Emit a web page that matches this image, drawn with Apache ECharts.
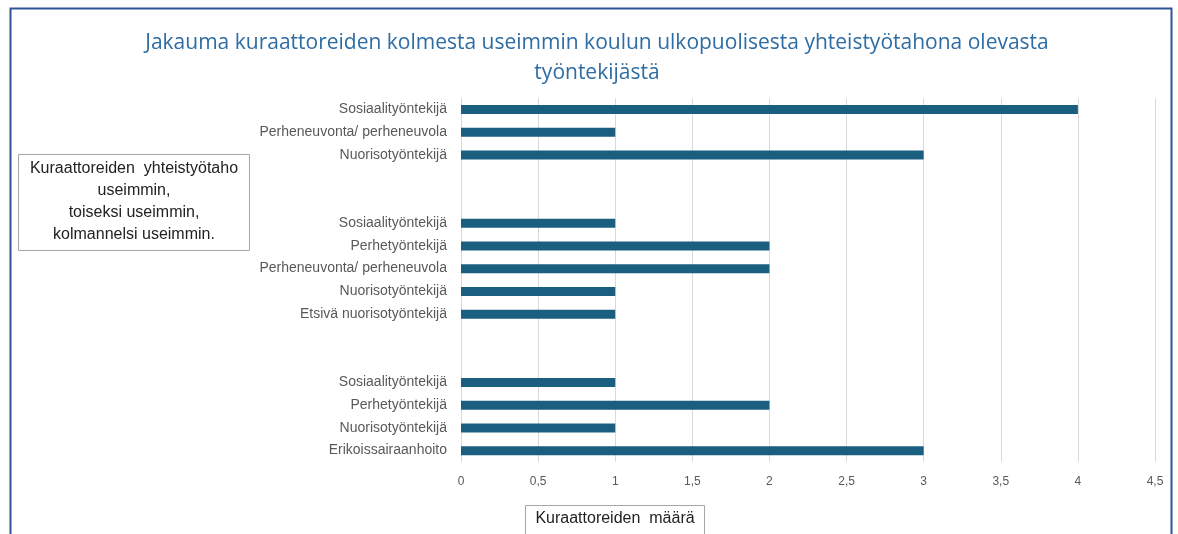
<!DOCTYPE html>
<html>
<head>
<meta charset="utf-8">
<script src="https://cdn.jsdelivr.net/npm/echarts@6/dist/echarts.min.js"></script>
<style>
  html, body { margin: 0; padding: 0; background: #fff; }
  #chart { width: 1178px; height: 534px; }
</style>
</head>
<body>
<div id="chart"></div>
<script>
// rows top to bottom, blank rows separate the three groups
var categories = [
  'Sosiaalityöntekijä', 'Perheneuvonta/ perheneuvola', 'Nuorisotyöntekijä',
  '', ' ',
  'Sosiaalityöntekijä', 'Perhetyöntekijä', 'Perheneuvonta/ perheneuvola', 'Nuorisotyöntekijä', 'Etsivä nuorisotyöntekijä',
  '  ', '   ',
  'Sosiaalityöntekijä', 'Perhetyöntekijä', 'Nuorisotyöntekijä', 'Erikoissairaanhoito'
];
var counts = [4, 1, 3, null, null, 1, 2, 2, 1, 1, null, null, 1, 2, 1, 3];
var xTicks = [0, 0.5, 1, 1.5, 2, 2.5, 3, 3.5, 4, 4.5];

var mychart = echarts.init(document.getElementById('chart'));
var option = {
    animation: false,
    title: [
        {
            text: 'Jakauma kuraattoreiden kolmesta useimmin koulun ulkopuolisesta yhteistyötahona olevasta\ntyöntekijästä',
            left: 592,
            top: 23,
            textAlign: 'center',
            textStyle: {
                color: '#2e6ca4',
                fontSize: 21,
                fontWeight: 'normal',
                lineHeight: 30,
                fontFamily: 'Open Sans'
            }
        },
        {
            // left side note box
            text: 'Kuraattoreiden  yhteistyötaho\nuseimmin,\ntoiseksi useimmin,\nkolmannelsi useimmin.',
            left: 129,
            top: 154,
            textAlign: 'center',
            borderColor: '#a6a6a6',
            borderWidth: 1,
            padding: [4, 5, 5, 5],
            textStyle: {
                color: '#222',
                fontSize: 16,
                fontWeight: 'normal',
                lineHeight: 22,
                fontFamily: 'Liberation Sans',
                width: 222,
                align: 'center'
            }
        },
        {
            text: 'Kuraattoreiden  määrä',
            left: 605,
            top: 505,
            textAlign: 'center',
            borderColor: '#a6a6a6',
            borderWidth: 1,
            padding: [6, 10, 8, 10],
            textStyle: {
                color: '#222',
                fontSize: 16,
                fontWeight: 'normal',
                fontFamily: 'Liberation Sans'
            }
        }
    ],
    graphic: [
        {
            type: 'rect',
            shape: { x: 10.5, y: 8.5, width: 1161, height: 540 },
            style: { fill: null, stroke: '#2f5597', lineWidth: 2 },
            z: 100
        }
    ],
    grid: {
        left: 461,
        right: 23,
        top: 98,
        bottom: 72
    },
    xAxis: {
        type: 'value',
        min: 0,
        max: 4.5,
        interval: 0.5,
        axisLine: { show: false },
        axisTick: { show: false },
        splitLine: { lineStyle: { color: '#d9d9d9', width: 1 } },
        axisLabel: {
            color: '#595959',
            fontSize: 12,
            margin: 14,
            fontFamily: 'Liberation Sans',
            formatter: function (v) {
                return xTicks.indexOf(v) >= 0 ? String(v).replace('.', ',') : '';
            }
        }
    },
    yAxis: {
        type: 'category',
        data: categories,
        inverse: true,
        axisLine: { show: false },
        axisTick: { show: false },
        axisLabel: {
            color: '#595959',
            fontSize: 14,
            margin: 14,
            fontFamily: 'Liberation Sans'
        }
    },
    series: [
        {
            type: 'bar',
            data: counts,
            barWidth: 9,
            itemStyle: { color: '#1a5e80' }
        }
    ]
};
mychart.setOption(option);
</script>
</body>
</html>
